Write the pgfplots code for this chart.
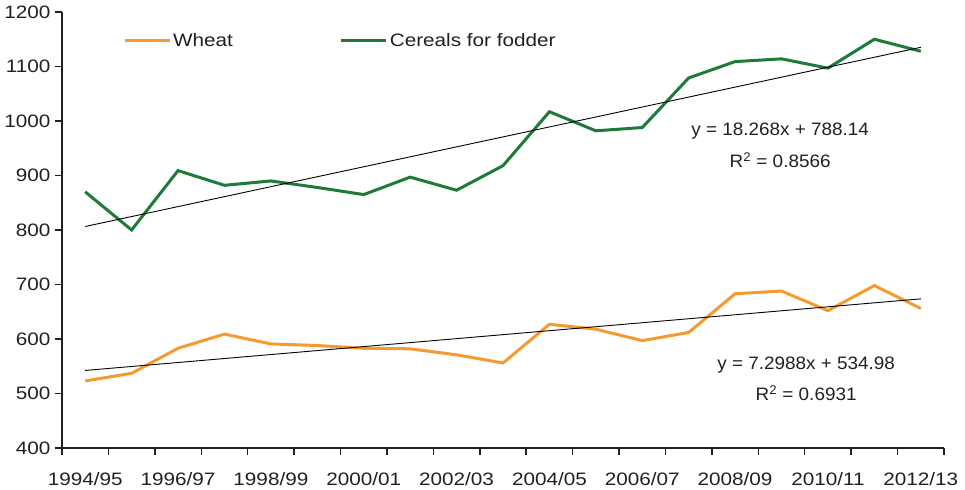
\documentclass[border=0pt]{standalone}
\usepackage{fontspec}
\setmainfont{Liberation Sans}[FakeStretch=1.15]
\newfontfamily\eqfont{Liberation Sans}[FakeStretch=1.05]
\usepackage{pgfplots}
\pgfplotsset{compat=1.18}
\definecolor{wheat}{HTML}{F59A2F}
\definecolor{fodder}{HTML}{1F7A3A}
\definecolor{txt}{HTML}{231F20}
\begin{document}
\begin{tikzpicture}[font=\fontsize{18bp}{21bp}\selectfont, text=txt]
\begin{axis}[
  scale only axis,
  width=882bp, height=436bp,
  xmin=-0.5, xmax=18.5,
  ymin=400, ymax=1200,
  axis x line*=bottom, axis y line*=left,
  axis line style={line width=1.5bp, color=txt, -},
  xtick={-0.5,0.5,...,18.5},
  xticklabels={1994/95,,1996/97,,1998/99,,2000/01,,2002/03,,2004/05,,2006/07,,2008/09,,2010/11,,2012/13,,},
  ytick={400,500,...,1200},
  tick align=outside,
  major tick length=7bp,
  tick style={draw=txt, line width=1.5bp},
  xticklabel style={xshift=23.2bp, yshift=-14bp},
  yticklabel style={xshift=-1bp},
  /pgf/number format/assume math mode=true,
  /pgf/number format/1000 sep={},
  legend style={draw=none, fill=none, at={(0.069,0.9335)}, anchor=west,
    inner xsep=0pt, inner ysep=0pt,
    /tikz/every even column/.append style={column sep=105bp}},
  legend columns=2,
  legend image code/.code={\draw[#1] (0bp,0bp) -- (45bp,0bp);},
]
\addplot[wheat, line width=3bp] coordinates {
(0,523) (1,537) (2,583) (3,609) (4,591) (5,588) (6,583) (7,582) (8,571) (9,556)
(10,627) (11,618) (12,597) (13,612) (14,683) (15,688) (16,652) (17,698) (18,656)};
\addlegendentry{Wheat}
\addplot[fodder, line width=3bp] coordinates {
(0,870) (1,800) (2,909) (3,882) (4,890) (5,878) (6,865) (7,897) (8,873) (9,918)
(10,1017) (11,982) (12,988) (13,1079) (14,1109) (15,1114) (16,1097) (17,1150) (18,1128)};
\addlegendentry{Cereals for fodder}
\addplot[black, line width=0.9bp, forget plot] coordinates {(0,806.41) (18,1135.23)};
\addplot[black, line width=0.9bp, forget plot] coordinates {(0,542.28) (18,673.66)};
\node[font=\eqfont\fontsize{18bp}{21bp}\selectfont] at (axis cs:14.97,980.8) {y = 18.268x + 788.14};
\node[font=\eqfont\fontsize{18bp}{21bp}\selectfont] at (axis cs:14.97,927.6) {R\textsuperscript{2} = 0.8566};
\node[font=\eqfont\fontsize{18bp}{21bp}\selectfont] at (axis cs:15.53,551.7) {y = 7.2988x + 534.98};
\node[font=\eqfont\fontsize{18bp}{21bp}\selectfont] at (axis cs:15.53,500.3) {R\textsuperscript{2} = 0.6931};
\coordinate (bl) at (rel axis cs:0,0);
\coordinate (tr) at (rel axis cs:1,1);
\end{axis}
\pgfresetboundingbox
\path ([shift={(-62bp,-42bp)}]bl) rectangle ([shift={(21bp,12bp)}]tr);
\end{tikzpicture}
\end{document}
